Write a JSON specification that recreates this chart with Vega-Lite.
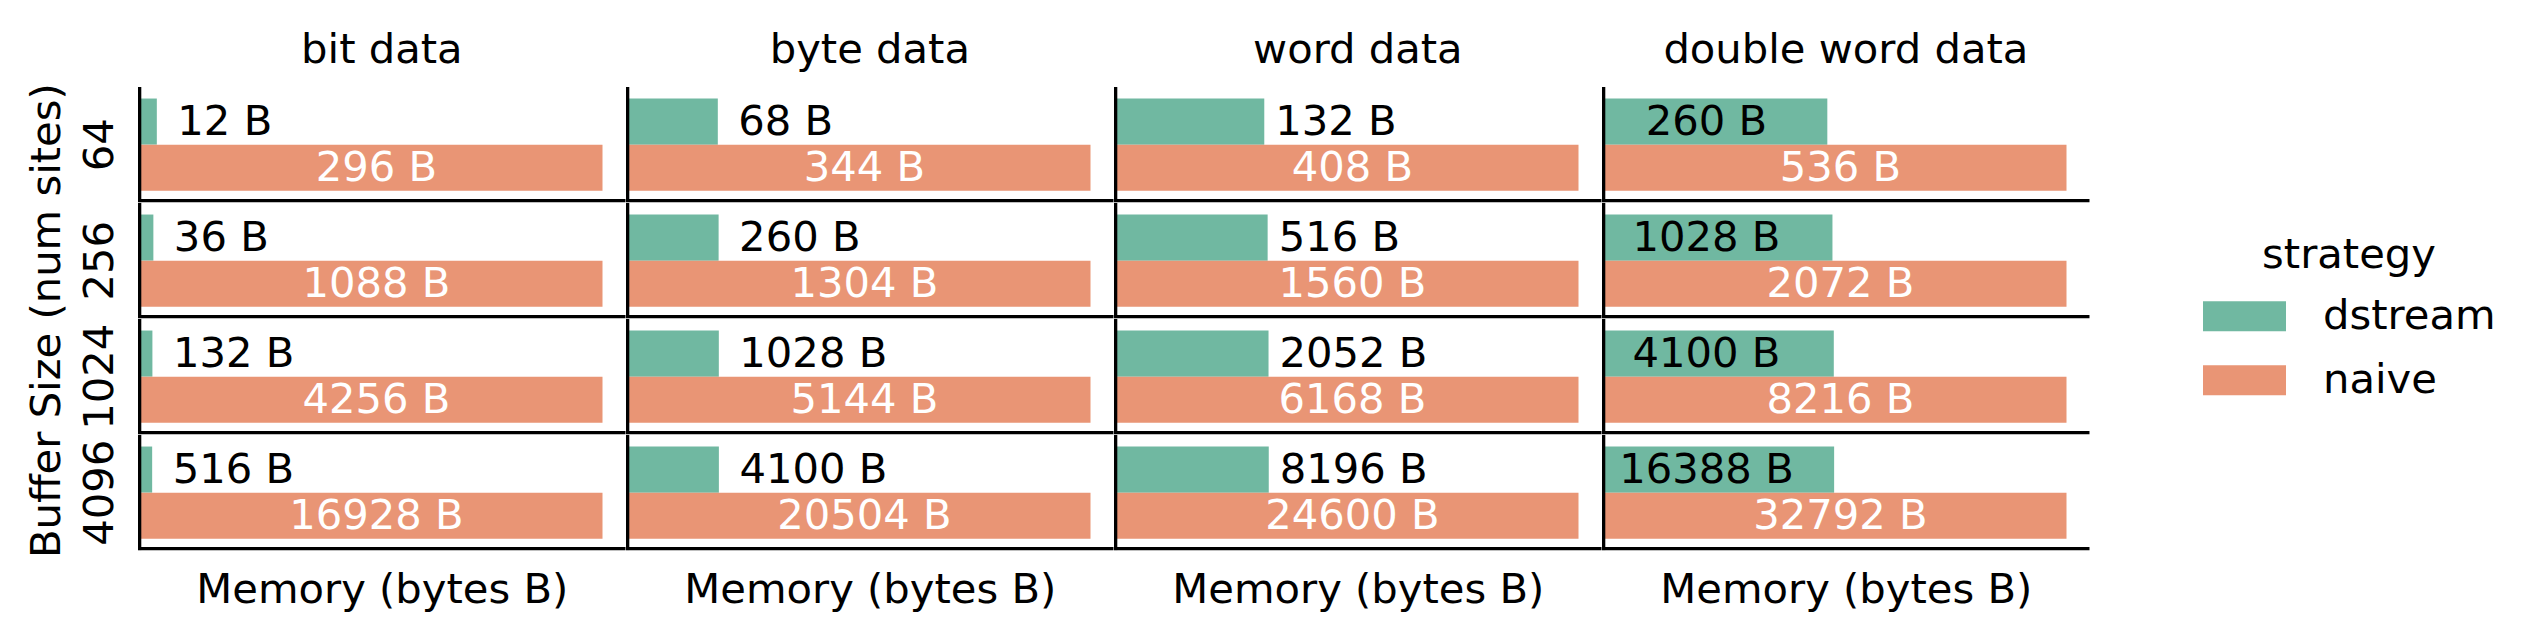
{
  "$schema": "https://vega.github.io/schema/vega-lite/v6.json",
  "background": "white",
  "padding": {"left": 26, "top": 30, "right": 10, "bottom": 10},
  "title": {"text": "Buffer Size (num sites)", "orient": "left", "anchor": "middle", "fontSize": 41.7, "fontWeight": "normal", "font": "DejaVu Sans", "color": "black", "offset": 11},
  "config": {
    "font": "DejaVu Sans",
    "view": {"stroke": null},
    "axis": {"labelFont": "DejaVu Sans", "titleFont": "DejaVu Sans", "labelColor": "black", "titleColor": "black", "grid": false},
    "header": {"labelFont": "DejaVu Sans", "labelColor": "black"},
    "legend": {"labelFont": "DejaVu Sans", "titleFont": "DejaVu Sans"}
  },
  "data": {"values": [
    {"dtype": "bit data", "buffer": 64, "strategy": "dstream", "value": 12},
    {"dtype": "bit data", "buffer": 64, "strategy": "naive", "value": 296},
    {"dtype": "bit data", "buffer": 256, "strategy": "dstream", "value": 36},
    {"dtype": "bit data", "buffer": 256, "strategy": "naive", "value": 1088},
    {"dtype": "bit data", "buffer": 1024, "strategy": "dstream", "value": 132},
    {"dtype": "bit data", "buffer": 1024, "strategy": "naive", "value": 4256},
    {"dtype": "bit data", "buffer": 4096, "strategy": "dstream", "value": 516},
    {"dtype": "bit data", "buffer": 4096, "strategy": "naive", "value": 16928},
    {"dtype": "byte data", "buffer": 64, "strategy": "dstream", "value": 68},
    {"dtype": "byte data", "buffer": 64, "strategy": "naive", "value": 344},
    {"dtype": "byte data", "buffer": 256, "strategy": "dstream", "value": 260},
    {"dtype": "byte data", "buffer": 256, "strategy": "naive", "value": 1304},
    {"dtype": "byte data", "buffer": 1024, "strategy": "dstream", "value": 1028},
    {"dtype": "byte data", "buffer": 1024, "strategy": "naive", "value": 5144},
    {"dtype": "byte data", "buffer": 4096, "strategy": "dstream", "value": 4100},
    {"dtype": "byte data", "buffer": 4096, "strategy": "naive", "value": 20504},
    {"dtype": "word data", "buffer": 64, "strategy": "dstream", "value": 132},
    {"dtype": "word data", "buffer": 64, "strategy": "naive", "value": 408},
    {"dtype": "word data", "buffer": 256, "strategy": "dstream", "value": 516},
    {"dtype": "word data", "buffer": 256, "strategy": "naive", "value": 1560},
    {"dtype": "word data", "buffer": 1024, "strategy": "dstream", "value": 2052},
    {"dtype": "word data", "buffer": 1024, "strategy": "naive", "value": 6168},
    {"dtype": "word data", "buffer": 4096, "strategy": "dstream", "value": 8196},
    {"dtype": "word data", "buffer": 4096, "strategy": "naive", "value": 24600},
    {"dtype": "double word data", "buffer": 64, "strategy": "dstream", "value": 260},
    {"dtype": "double word data", "buffer": 64, "strategy": "naive", "value": 536},
    {"dtype": "double word data", "buffer": 256, "strategy": "dstream", "value": 1028},
    {"dtype": "double word data", "buffer": 256, "strategy": "naive", "value": 2072},
    {"dtype": "double word data", "buffer": 1024, "strategy": "dstream", "value": 4100},
    {"dtype": "double word data", "buffer": 1024, "strategy": "naive", "value": 8216},
    {"dtype": "double word data", "buffer": 4096, "strategy": "dstream", "value": 16388},
    {"dtype": "double word data", "buffer": 4096, "strategy": "naive", "value": 32792}
  ]},
  "spacing": 0,
  "vconcat": [
    {
      "transform": [{"filter": "datum.buffer == 64"}],
      "facet": {"column": {"field": "dtype", "type": "nominal", "sort": ["bit data", "byte data", "word data", "double word data"], "header": {"title": null, "labelFontSize": 41.7, "labelPadding": -17.7, "labelBaseline": "alphabetic"}}},
      "spacing": 0,
      "resolve": {"scale": {"x": "independent"}},
      "spec": {
        "width": 487.7, "height": 115.3,
        "layer": [
          {"mark": {"type": "bar"},
           "encoding": {
             "y": {"field": "buffer", "type": "ordinal", "scale": {"paddingInner": 0, "paddingOuter": 0}, "axis": {"title": null, "domain": false, "ticks": false, "labelAngle": -90, "labelAlign": "center", "labelBaseline": "alphabetic", "labelPadding": 25.6, "labelFontSize": 41.7}},
             "yOffset": {"field": "strategy", "type": "nominal", "sort": ["dstream", "naive"], "scale": {"paddingInner": 0, "paddingOuter": 0.25}},
             "x": {"field": "value", "type": "quantitative", "stack": null, "scale": {"range": [0, 464.5], "nice": false, "zero": true}, "axis": null},
             "color": {"field": "strategy", "type": "nominal", "scale": {"domain": ["dstream", "naive"], "range": ["#70b8a1", "#e99575"]}, "legend": {"title": "strategy", "orient": "none", "legendX": 2065, "legendY": 148, "padding": 0, "titleFontSize": 41.7, "titleFontWeight": "normal", "titleColor": "black", "titleAnchor": "middle", "titlePadding": -2, "labelFontSize": 41.7, "labelColor": "black", "labelLimit": 0, "labelOffset": 37, "rowPadding": -14, "symbolType": "M-1,-0.3614L1,-0.3614L1,0.3614L-1,0.3614Z", "symbolSize": 6889, "symbolStrokeWidth": 0, "symbolOpacity": 1}}
           }},
          {"transform": [{"filter": "datum.strategy == 'dstream' && (datum.dtype == 'bit data' || datum.dtype == 'byte data')"}],
           "mark": {"type": "text", "align": "left", "baseline": "middle", "dx": 20.5, "fontSize": 41.7, "color": "black", "text": {"expr": "datum.value + ' B'"}},
           "encoding": {"y": {"field": "buffer", "type": "ordinal"}, "yOffset": {"field": "strategy", "type": "nominal"}, "x": {"field": "value", "type": "quantitative", "stack": null}}},
          {"transform": [{"filter": "datum.strategy == 'dstream' && datum.dtype == 'word data'"}],
           "mark": {"type": "text", "align": "left", "baseline": "middle", "dx": 11, "fontSize": 41.7, "color": "black", "text": {"expr": "datum.value + ' B'"}},
           "encoding": {"y": {"field": "buffer", "type": "ordinal"}, "yOffset": {"field": "strategy", "type": "nominal"}, "x": {"field": "value", "type": "quantitative", "stack": null}}},
          {"transform": [{"filter": "datum.strategy == 'dstream' && datum.dtype == 'double word data'"}],
           "mark": {"type": "text", "align": "center", "baseline": "middle", "dx": 104.5, "fontSize": 41.7, "color": "black", "text": {"expr": "datum.value + ' B'"}},
           "encoding": {"y": {"field": "buffer", "type": "ordinal"}, "yOffset": {"field": "strategy", "type": "nominal"}, "x": {"datum": 0, "type": "quantitative"}}},
          {"transform": [{"filter": "datum.strategy == 'naive'"}],
           "mark": {"type": "text", "align": "center", "baseline": "middle", "dx": 238.4, "fontSize": 41.7, "color": "white", "text": {"expr": "datum.value + ' B'"}},
           "encoding": {"y": {"field": "buffer", "type": "ordinal"}, "yOffset": {"field": "strategy", "type": "nominal"}, "x": {"datum": 0, "type": "quantitative"}}},
          {"transform": [{"filter": "datum.strategy == 'naive'"}],
           "mark": {"type": "rule", "color": "black", "strokeWidth": 6.6, "clip": true},
           "encoding": {"x": {"datum": 0, "type": "quantitative"}}},
          {"transform": [{"filter": "datum.strategy == 'naive'"}],
           "mark": {"type": "rule", "color": "black", "strokeWidth": 6.6, "clip": true},
           "encoding": {"y": {"field": "buffer", "type": "ordinal", "bandPosition": 1}}}
        ]
      }
    },
    {
      "transform": [{"filter": "datum.buffer == 256"}],
      "facet": {"column": {"field": "dtype", "type": "nominal", "sort": ["bit data", "byte data", "word data", "double word data"], "header": null}},
      "spacing": 0,
      "resolve": {"scale": {"x": "independent"}},
      "spec": {
        "width": 487.7, "height": 115.3,
        "layer": [
          {"mark": {"type": "bar"},
           "encoding": {
             "y": {"field": "buffer", "type": "ordinal", "scale": {"paddingInner": 0, "paddingOuter": 0}, "axis": {"title": null, "domain": false, "ticks": false, "labelAngle": -90, "labelAlign": "center", "labelBaseline": "alphabetic", "labelPadding": 25.6, "labelFontSize": 41.7}},
             "yOffset": {"field": "strategy", "type": "nominal", "sort": ["dstream", "naive"], "scale": {"paddingInner": 0, "paddingOuter": 0.25}},
             "x": {"field": "value", "type": "quantitative", "stack": null, "scale": {"range": [0, 464.5], "nice": false, "zero": true}, "axis": null},
             "color": {"field": "strategy", "type": "nominal", "scale": {"domain": ["dstream", "naive"], "range": ["#70b8a1", "#e99575"]}}
           }},
          {"transform": [{"filter": "datum.strategy == 'dstream' && (datum.dtype == 'bit data' || datum.dtype == 'byte data')"}],
           "mark": {"type": "text", "align": "left", "baseline": "middle", "dx": 20.5, "fontSize": 41.7, "color": "black", "text": {"expr": "datum.value + ' B'"}},
           "encoding": {"y": {"field": "buffer", "type": "ordinal"}, "yOffset": {"field": "strategy", "type": "nominal"}, "x": {"field": "value", "type": "quantitative", "stack": null}}},
          {"transform": [{"filter": "datum.strategy == 'dstream' && datum.dtype == 'word data'"}],
           "mark": {"type": "text", "align": "left", "baseline": "middle", "dx": 11, "fontSize": 41.7, "color": "black", "text": {"expr": "datum.value + ' B'"}},
           "encoding": {"y": {"field": "buffer", "type": "ordinal"}, "yOffset": {"field": "strategy", "type": "nominal"}, "x": {"field": "value", "type": "quantitative", "stack": null}}},
          {"transform": [{"filter": "datum.strategy == 'dstream' && datum.dtype == 'double word data'"}],
           "mark": {"type": "text", "align": "center", "baseline": "middle", "dx": 104.5, "fontSize": 41.7, "color": "black", "text": {"expr": "datum.value + ' B'"}},
           "encoding": {"y": {"field": "buffer", "type": "ordinal"}, "yOffset": {"field": "strategy", "type": "nominal"}, "x": {"datum": 0, "type": "quantitative"}}},
          {"transform": [{"filter": "datum.strategy == 'naive'"}],
           "mark": {"type": "text", "align": "center", "baseline": "middle", "dx": 238.4, "fontSize": 41.7, "color": "white", "text": {"expr": "datum.value + ' B'"}},
           "encoding": {"y": {"field": "buffer", "type": "ordinal"}, "yOffset": {"field": "strategy", "type": "nominal"}, "x": {"datum": 0, "type": "quantitative"}}},
          {"transform": [{"filter": "datum.strategy == 'naive'"}],
           "mark": {"type": "rule", "color": "black", "strokeWidth": 6.6, "clip": true},
           "encoding": {"x": {"datum": 0, "type": "quantitative"}}},
          {"transform": [{"filter": "datum.strategy == 'naive'"}],
           "mark": {"type": "rule", "color": "black", "strokeWidth": 6.6, "clip": true},
           "encoding": {"y": {"field": "buffer", "type": "ordinal", "bandPosition": 1}}}
        ]
      }
    },
    {
      "transform": [{"filter": "datum.buffer == 1024"}],
      "facet": {"column": {"field": "dtype", "type": "nominal", "sort": ["bit data", "byte data", "word data", "double word data"], "header": null}},
      "spacing": 0,
      "resolve": {"scale": {"x": "independent"}},
      "spec": {
        "width": 487.7, "height": 115.3,
        "layer": [
          {"mark": {"type": "bar"},
           "encoding": {
             "y": {"field": "buffer", "type": "ordinal", "scale": {"paddingInner": 0, "paddingOuter": 0}, "axis": {"title": null, "domain": false, "ticks": false, "labelAngle": -90, "labelAlign": "center", "labelBaseline": "alphabetic", "labelPadding": 25.6, "labelFontSize": 41.7}},
             "yOffset": {"field": "strategy", "type": "nominal", "sort": ["dstream", "naive"], "scale": {"paddingInner": 0, "paddingOuter": 0.25}},
             "x": {"field": "value", "type": "quantitative", "stack": null, "scale": {"range": [0, 464.5], "nice": false, "zero": true}, "axis": null},
             "color": {"field": "strategy", "type": "nominal", "scale": {"domain": ["dstream", "naive"], "range": ["#70b8a1", "#e99575"]}}
           }},
          {"transform": [{"filter": "datum.strategy == 'dstream' && (datum.dtype == 'bit data' || datum.dtype == 'byte data')"}],
           "mark": {"type": "text", "align": "left", "baseline": "middle", "dx": 20.5, "fontSize": 41.7, "color": "black", "text": {"expr": "datum.value + ' B'"}},
           "encoding": {"y": {"field": "buffer", "type": "ordinal"}, "yOffset": {"field": "strategy", "type": "nominal"}, "x": {"field": "value", "type": "quantitative", "stack": null}}},
          {"transform": [{"filter": "datum.strategy == 'dstream' && datum.dtype == 'word data'"}],
           "mark": {"type": "text", "align": "left", "baseline": "middle", "dx": 11, "fontSize": 41.7, "color": "black", "text": {"expr": "datum.value + ' B'"}},
           "encoding": {"y": {"field": "buffer", "type": "ordinal"}, "yOffset": {"field": "strategy", "type": "nominal"}, "x": {"field": "value", "type": "quantitative", "stack": null}}},
          {"transform": [{"filter": "datum.strategy == 'dstream' && datum.dtype == 'double word data'"}],
           "mark": {"type": "text", "align": "center", "baseline": "middle", "dx": 104.5, "fontSize": 41.7, "color": "black", "text": {"expr": "datum.value + ' B'"}},
           "encoding": {"y": {"field": "buffer", "type": "ordinal"}, "yOffset": {"field": "strategy", "type": "nominal"}, "x": {"datum": 0, "type": "quantitative"}}},
          {"transform": [{"filter": "datum.strategy == 'naive'"}],
           "mark": {"type": "text", "align": "center", "baseline": "middle", "dx": 238.4, "fontSize": 41.7, "color": "white", "text": {"expr": "datum.value + ' B'"}},
           "encoding": {"y": {"field": "buffer", "type": "ordinal"}, "yOffset": {"field": "strategy", "type": "nominal"}, "x": {"datum": 0, "type": "quantitative"}}},
          {"transform": [{"filter": "datum.strategy == 'naive'"}],
           "mark": {"type": "rule", "color": "black", "strokeWidth": 6.6, "clip": true},
           "encoding": {"x": {"datum": 0, "type": "quantitative"}}},
          {"transform": [{"filter": "datum.strategy == 'naive'"}],
           "mark": {"type": "rule", "color": "black", "strokeWidth": 6.6, "clip": true},
           "encoding": {"y": {"field": "buffer", "type": "ordinal", "bandPosition": 1}}}
        ]
      }
    },
    {
      "transform": [{"filter": "datum.buffer == 4096"}],
      "facet": {"column": {"field": "dtype", "type": "nominal", "sort": ["bit data", "byte data", "word data", "double word data"], "header": null}},
      "spacing": 0,
      "resolve": {"scale": {"x": "independent"}},
      "spec": {
        "width": 487.7, "height": 115.3,
        "layer": [
          {"mark": {"type": "bar"},
           "encoding": {
             "y": {"field": "buffer", "type": "ordinal", "scale": {"paddingInner": 0, "paddingOuter": 0}, "axis": {"title": null, "domain": false, "ticks": false, "labelAngle": -90, "labelAlign": "center", "labelBaseline": "alphabetic", "labelPadding": 25.6, "labelFontSize": 41.7}},
             "yOffset": {"field": "strategy", "type": "nominal", "sort": ["dstream", "naive"], "scale": {"paddingInner": 0, "paddingOuter": 0.25}},
             "x": {"field": "value", "type": "quantitative", "stack": null, "scale": {"range": [0, 464.5], "nice": false, "zero": true}, "axis": {"title": "Memory (bytes B)", "labels": false, "ticks": false, "domain": false, "titleFontSize": 41.7, "titleFontWeight": "normal", "titleX": 243.8, "titleY": 52.4, "titleBaseline": "alphabetic", "titleAlign": "center"}},
             "color": {"field": "strategy", "type": "nominal", "scale": {"domain": ["dstream", "naive"], "range": ["#70b8a1", "#e99575"]}}
           }},
          {"transform": [{"filter": "datum.strategy == 'dstream' && (datum.dtype == 'bit data' || datum.dtype == 'byte data')"}],
           "mark": {"type": "text", "align": "left", "baseline": "middle", "dx": 20.5, "fontSize": 41.7, "color": "black", "text": {"expr": "datum.value + ' B'"}},
           "encoding": {"y": {"field": "buffer", "type": "ordinal"}, "yOffset": {"field": "strategy", "type": "nominal"}, "x": {"field": "value", "type": "quantitative", "stack": null}}},
          {"transform": [{"filter": "datum.strategy == 'dstream' && datum.dtype == 'word data'"}],
           "mark": {"type": "text", "align": "left", "baseline": "middle", "dx": 11, "fontSize": 41.7, "color": "black", "text": {"expr": "datum.value + ' B'"}},
           "encoding": {"y": {"field": "buffer", "type": "ordinal"}, "yOffset": {"field": "strategy", "type": "nominal"}, "x": {"field": "value", "type": "quantitative", "stack": null}}},
          {"transform": [{"filter": "datum.strategy == 'dstream' && datum.dtype == 'double word data'"}],
           "mark": {"type": "text", "align": "center", "baseline": "middle", "dx": 104.5, "fontSize": 41.7, "color": "black", "text": {"expr": "datum.value + ' B'"}},
           "encoding": {"y": {"field": "buffer", "type": "ordinal"}, "yOffset": {"field": "strategy", "type": "nominal"}, "x": {"datum": 0, "type": "quantitative"}}},
          {"transform": [{"filter": "datum.strategy == 'naive'"}],
           "mark": {"type": "text", "align": "center", "baseline": "middle", "dx": 238.4, "fontSize": 41.7, "color": "white", "text": {"expr": "datum.value + ' B'"}},
           "encoding": {"y": {"field": "buffer", "type": "ordinal"}, "yOffset": {"field": "strategy", "type": "nominal"}, "x": {"datum": 0, "type": "quantitative"}}},
          {"transform": [{"filter": "datum.strategy == 'naive'"}],
           "mark": {"type": "rule", "color": "black", "strokeWidth": 6.6, "clip": true},
           "encoding": {"x": {"datum": 0, "type": "quantitative"}}},
          {"transform": [{"filter": "datum.strategy == 'naive'"}],
           "mark": {"type": "rule", "color": "black", "strokeWidth": 6.6, "clip": true},
           "encoding": {"y": {"field": "buffer", "type": "ordinal", "bandPosition": 1}}}
        ]
      }
    }
  ]
}
